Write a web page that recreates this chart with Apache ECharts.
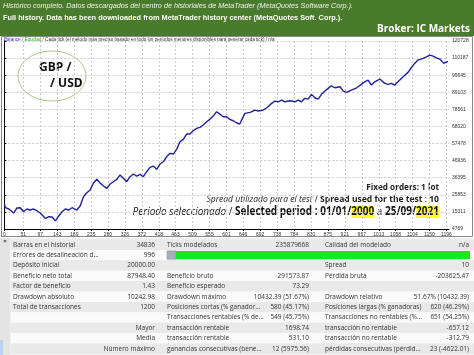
<!DOCTYPE html>
<html><head><meta charset="utf-8">
<script src="https://cdn.jsdelivr.net/npm/echarts@6/dist/echarts.min.js"></script>
<style>html,body{margin:0;padding:0;background:#fff}#c{width:474px;height:355px}</style>
</head><body><div id="c"></div>
<script>
// Balance curve: trade number and balance
const trades = [0,3,12,25,34,43,52,61,70,79,88,97,111,120,129,138,147,156,165,174,183,196,205,214,223,232,241,250,259,268,277,286,295,304,313,322,331,340,349,358,367,376,385,394,403,412,421,430,439,448,457,466,475,484,493,502,511,520,529,538,547,556,565,574,583,592,601,610,619,628,637,644,651,665,678,687,700,710,723,732,741,750,759,773,786,795,804,813,822,831,840,849,858,867,876,885,894,908,917,926,939,953,966,975,984,993,1002,1016,1029,1038,1047,1056,1065,1079,1092,1101,1110,1119,1133,1142,1151,1160,1169,1178,1189,1196,1200];
const balance = [20000,17900,17100,14630,17720,17900,15430,17100,16480,17100,16050,14630,11200,12350,12170,9760,12780,15430,17100,16480,17900,16480,18950,24680,27150,28810,33130,35410,33130,31280,29860,32510,33930,35410,38060,36030,33930,37010,38680,37440,38490,37010,40090,42810,43610,41570,44840,46260,49340,51440,51010,53900,58590,60070,63340,63340,65370,66850,67470,68890,70920,72400,74430,77080,75670,74000,74000,72400,71540,70300,69500,73000,76100,76720,78130,77520,78130,79550,82260,83680,83250,84300,83250,83870,83250,84300,83250,85350,84910,87810,85720,84910,87810,89850,91510,93110,91880,92500,89850,89050,90460,91880,93980,95580,96630,93550,95580,97240,94590,93980,94590,93550,95580,98660,101380,104210,106920,108960,110010,110990,112040,111420,110380,109570,106920,107910,107948];
const xTickLabels = [0,51,97,143,189,235,280,326,372,418,463,509,555,601,646,692,738,784,830,875,921,967,1013,1058,1104,1150,1196];
const yTickLabels = [4769,15311,25853,36395,46936,57478,68020,78561,89103,99645,110187,120728];

// Report table
const tableRows = [
 ["Barras en el historial","34836","Ticks modelados","235879668","Calidad del modelado","n/a"],
 ["Errores de desalineación d...","996","","","",""],
 ["Depósito inicial","20000.00","","","Spread","10"],
 ["Beneficio neto total","87948.40","Beneficio bruto","291573.87","Pérdida bruta","-203625.47"],
 ["Factor de beneficio","1.43","Beneficio esperado","73.29","",""],
 ["Drawdown absoluto","10242.98","Drawdown máximo","10432.39 (51.67%)","Drawdown relativo","51.67% (10432.39)"],
 ["Total de transacciones","1200","Posiciones cortas (% ganador...","580 (45.17%)","Posiciones largas (% ganadoras)","620 (46.29%)"],
 ["","","Transacciones rentables (% de...","549 (45.75%)","Transacciones no rentables (%...","651 (54.25%)"],
 ["","Mayor","transacción rentable","1698.74","transacción no rentable","-657.12"],
 ["","Media","transacción rentable","531.10","transacción no rentable","-312.79"],
 ["","Número máximo","ganancias consecutivas (bene...","12 (5975.56)","pérdidas consecutivas (pérdid...","23 (-4622.01)"]
];
const headerLine1 = "Histórico completo. Datos descargados del centro de historiales de MetaTrader (MetaQuotes Software Corp.).";
const headerLine2 = "Full history. Data has been downloaded from MetaTrader history center (MetaQuotes Soft. Corp.).";
const brokerText = "Broker: IC Markets";

const chart = echarts.init(document.getElementById('c'), null, {renderer:'canvas'});
const graphics = [];
// header
graphics.push({type:'rect', shape:{x:0,y:0,width:474,height:36}, style:{fill:'#4a7a2b'}, z:-1});
graphics.push({type:'text', x:3, y:6, scaleX:0.96, style:{text:headerLine1, fill:'#f2f2f2', font:'italic 7.5px "Liberation Sans"', verticalAlign:'middle'}});
graphics.push({type:'text', x:3, y:18, scaleX:0.92, style:{text:headerLine2, fill:'#ffffff', font:'bold 8px "Liberation Sans"', verticalAlign:'middle'}});
graphics.push({type:'text', x:470, y:29, scaleX:0.95, style:{text:brokerText, fill:'#ffffff', font:'bold 10.5px "Open Sans"', align:'right', verticalAlign:'middle'}});
// chart frame
graphics.push({type:'rect', shape:{x:1.5,y:36.5,width:471,height:200}, style:{fill:'none', stroke:'#888', lineWidth:1}, z:-1});
graphics.push({type:'text', x:4, y:40, style:{text:'{b|Balance} / {g|Equidad} / Cada tick (el método más preciso basado en todo los períodos menores disponibles para generar cada tick) / n/a', rich:{b:{fill:'#3030c0',font:'4.6px "Liberation Sans"'},g:{fill:'#30a030',font:'4.6px "Liberation Sans"'}}, fill:'#333', font:'4.6px "Liberation Sans"', verticalAlign:'middle'}});
// ellipse label
graphics.push({type:'ellipse', shape:{cx:52,cy:76,rx:34,ry:25}, style:{fill:'#fff', stroke:'#a9c48a', lineWidth:1}});
graphics.push({type:'text', x:39, y:68, style:{text:'GBP /', fill:'#111', font:'bold 12px "Open Sans"', verticalAlign:'middle'}});
graphics.push({type:'text', x:50, y:84, style:{text:'/ USD', fill:'#111', font:'bold 12px "Open Sans"', verticalAlign:'middle'}});
// annotations
graphics.push({type:'text', x:439, y:187, scaleX:0.86, style:{text:'Fixed orders: 1 lot', fill:'#222', font:'bold 9.5px "Open Sans"', align:'right', verticalAlign:'middle'}});
graphics.push({type:'text', x:439, y:199, scaleX:0.95, style:{text:'{i|Spread utilizado para el test} / {b|Spread used for the test} : {b|10}', fill:'#222', font:'9px "Open Sans"', align:'right', verticalAlign:'middle', rich:{i:{font:'italic 9px "Open Sans"',fill:'#222'}, b:{font:'bold 9px "Open Sans"',fill:'#222'}}}});
graphics.push({type:'text', x:439, y:212, scaleX:0.87, style:{text:'{i|Periodo seleccionado} / {b|Selected period : 01/01/}{h|2000}{n| a }{b|25/09/}{h|2021}', fill:'#111', font:'11.5px "Open Sans"', align:'right', verticalAlign:'middle', rich:{i:{font:'italic 11.5px "Open Sans"',fill:'#111'}, b:{font:'bold 11.5px "Open Sans"',fill:'#111'}, n:{font:'11.5px "Open Sans"',fill:'#111'}, h:{font:'bold 11.5px "Open Sans"',fill:'#111',backgroundColor:'#ffff20'}}}});
// table
graphics.push({type:'rect', shape:{x:0,y:238,width:474,height:117}, style:{fill:'#f0f0f0'}, z:-1});
graphics.push({type:'rect', shape:{x:0,y:238,width:10,height:117}, style:{fill:'#e4e4e4'}});
graphics.push({type:'rect', shape:{x:0,y:340,width:3,height:15}, style:{fill:'#b9d3ec'}});
graphics.push({type:'text', x:5, y:241, style:{text:'×', fill:'#333', font:'bold 6px "Liberation Sans"', align:'center', verticalAlign:'middle'}});
const rowTop = 239.5, rowH = 10.4;
const colX = [13,155,167,309,325,469];
const colAlign = ['left','right','left','right','left','right'];
tableRows.forEach((r,i)=>{
  const top = rowTop + i*rowH;
  graphics.push({type:'rect', shape:{x:11,y:top,width:463,height:rowH}, style:{fill: i%2===0 ? '#e9e9e9' : '#fafafa'}});
  r.forEach((t,j)=>{
    if(!t) return;
    graphics.push({type:'text', x:colX[j], y:top+rowH/2, style:{text:t, fill:'#333', font:'6.5px "Open Sans"', align:colAlign[j], verticalAlign:'middle'}});
  });
});
// modelling quality bar (row 1)
graphics.push({type:'rect', shape:{x:167,y:rowTop+rowH+1,width:9,height:rowH-2}, style:{fill:'#a6aeb6', stroke:'#8a9098', lineWidth:0.5}});
graphics.push({type:'rect', shape:{x:176,y:rowTop+rowH+1,width:294,height:rowH-2}, style:{fill:'#1ee61e'}});

chart.setOption({
  animation:false,
  backgroundColor:'#ffffff',
  grid:{left:4, right:25, top:41, bottom:126, show:false},
  xAxis:{type:'value', min:0, max:1203,
    axisLine:{show:true, onZero:false, lineStyle:{color:'#000', width:1}},
    axisTick:{show:true, length:2, customValues:xTickLabels, lineStyle:{color:'#000'}},
    axisLabel:{customValues:xTickLabels, formatter:v=>String(v), fontSize:5, margin:3, color:'#333', fontFamily:'Liberation Sans', showMinLabel:true, showMaxLabel:true},
    splitLine:{show:true, lineStyle:{type:[2,2], color:'#cccccc', width:1}}},
  yAxis:{type:'value', position:'right', min:4769, max:120728,
    axisLine:{show:true, lineStyle:{color:'#000', width:1}},
    axisTick:{show:true, length:2, customValues:yTickLabels, lineStyle:{color:'#000'}},
    axisLabel:{customValues:yTickLabels, formatter:v=>String(v), fontSize:5, margin:3, color:'#333', fontFamily:'Liberation Sans'},
    splitLine:{show:true, lineStyle:{type:[2,2], color:'#cccccc', width:1}}},
  series:[{type:'line', data:trades.map((t,i)=>[t,balance[i]]), showSymbol:false, lineStyle:{color:'#22229a', width:1.4}, itemStyle:{color:'#22229a'}}],
  graphic:graphics
});
</script></body></html>
